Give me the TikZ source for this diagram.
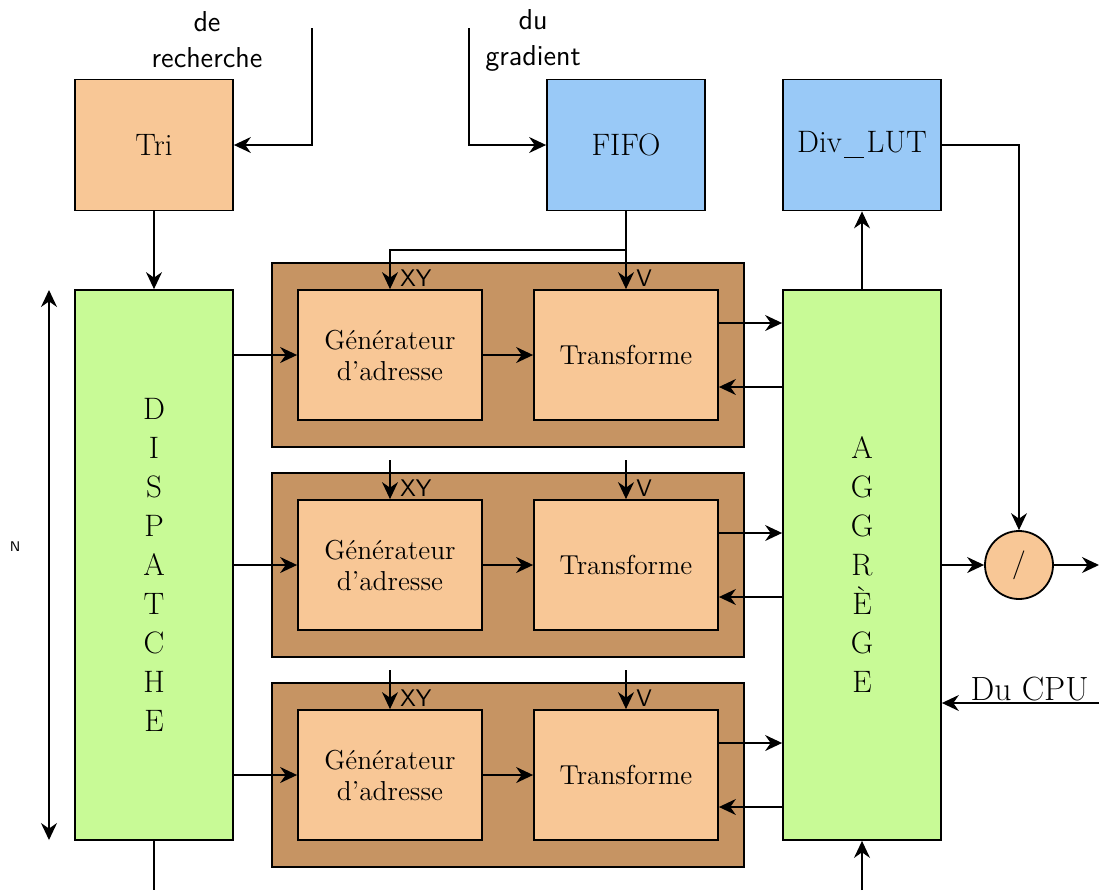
\documentclass[tikz,border=0pt]{standalone}
\usepackage{tikz}
\usetikzlibrary{calc,arrows.meta}

\definecolor{boxorange}{RGB}{248,199,150}
\definecolor{boxblue}{RGB}{153,201,247}
\definecolor{boxgreen}{RGB}{200,250,150}
\definecolor{boxbrown}{RGB}{198,148,99}

\tikzset{
  >={Stealth[length=8.5pt, width=8pt, inset=2.8pt]},
  blk/.style={draw, line width=0.9pt, minimum width=79pt, minimum height=65.5pt, font=\fontsize{15.5}{19.4}\selectfont},
  sub/.style={draw, line width=0.9pt, fill=boxorange, minimum width=92pt, minimum height=65pt, font=\fontsize{13.7}{15.5}\selectfont, align=center},
  tall/.style={draw, line width=0.9pt, fill=boxgreen, minimum width=79pt, minimum height=275pt, font=\fontsize{15.5}{19.5}\selectfont, align=center},
  arr/.style={line width=0.7pt, ->},
  wire/.style={line width=0.7pt},
  lbl/.style={font=\sffamily\large, inner sep=1pt}
}

\begin{document}
\begin{tikzpicture}[x=0.5pt, y=-0.5pt]
  \useasboundingbox (0,0) rectangle (1099,890);

  \node[blk, fill=boxorange] (tri) at (154,145) {Tri};
  \node[blk, fill=boxblue] (fifo) at (626,145) {FIFO};
  \node[blk, fill=boxblue] (div) at (862,145) {Div\kern1.2pt\rule[-2.8pt]{10pt}{0.6pt}\kern1.2pt LUT};

  \node[tall] (disp) at (154,565) {D\\I\\S\\P\\A\\T\\C\\H\\E};
  \node[tall] (agg) at (862,565) {A\\G\\G\\R\\È\\G\\E};

  \node[circle, draw, line width=0.9pt, fill=boxorange, minimum size=34pt, inner sep=0pt] (circ) at (1019,565) {\sffamily\Large /};

  % entrees du haut
  \coordinate (rech) at (312,28);
  \coordinate (grad) at (469,28);
  \node[font=\sffamily\Large, align=center] (rechtxt) at (207,40) {de\\[0pt]recherche};
  \node[font=\sffamily\Large, align=center] (gradtxt) at (533,40) {du\\[0pt]gradient};
  \draw[arr] (rech) |- (tri);
  \draw[arr] (grad) |- (fifo);
  \draw[arr] (tri) -- (disp);

  % les trois voies
  \foreach \i/\y in {1/355, 2/565, 3/775} {
    \node[draw, line width=0.9pt, fill=boxbrown, minimum width=236pt, minimum height=92pt] (bloc\i) at (508,\y) {};
    \node[sub] (gen\i) at (390,\y) {Générateur\\d'adresse};
    \node[sub] (trans\i) at (626,\y) {Transforme};
    \node[lbl, anchor=south west] (xy\i) at ([xshift=4pt]gen\i.north) {XY};
    \node[lbl, anchor=south west] (v\i) at ([xshift=4pt]trans\i.north) {V};
    \draw[arr] (disp.east |- gen\i.west) -- (gen\i);
    \draw[arr] (gen\i) -- (trans\i);
    \draw[arr] ([yshift=16pt]trans\i.east) -- ([yshift=16pt]trans\i.east -| agg.west);
    \draw[arr] ([yshift=-16pt]trans\i.east -| agg.west) -- ([yshift=-16pt]trans\i.east);
  }

  \coordinate (split) at (626,250);
  \draw[wire] (fifo) -- (split);
  \draw[arr] (split) -- (trans1);
  \draw[arr] (split) -| (gen1);
  \coordinate (xyin2) at (390,460);
  \coordinate (vin2) at (626,460);
  \coordinate (xyin3) at (390,670);
  \coordinate (vin3) at (626,670);
  \draw[arr] (xyin2) -- (gen2);
  \draw[arr] (vin2) -- (trans2);
  \draw[arr] (xyin3) -- (gen3);
  \draw[arr] (vin3) -- (trans3);

  % sorties
  \draw[arr] (agg) -- (div);
  \draw[arr] (div) -| (circ);
  \draw[arr] (agg) -- (circ);
  \coordinate (out) at (1099,565);
  \draw[arr] (circ) -- (out);
  \coordinate (cpu) at (1099,703);
  \draw[arr] (cpu) -- (cpu -| agg.east);
  \node[font=\fontsize{16.8}{20}\selectfont, anchor=south east, inner sep=1pt] (cputxt) at ([xshift=-4pt]cpu) {Du CPU};
  \coordinate (aggin) at (862,890);
  \draw[arr] (aggin) -- (agg);
  \coordinate (dispout) at (154,890);
  \draw[wire] (disp) -- (dispout);

  % N
  \coordinate (ntop) at (49,290);
  \coordinate (nbot) at (49,840);
  \draw[line width=0.7pt, <->] (ntop) -- (nbot);
  \node[lbl, font=\sffamily\scriptsize] (ntxt) at (15,547) {N};
\end{tikzpicture}
\end{document}
